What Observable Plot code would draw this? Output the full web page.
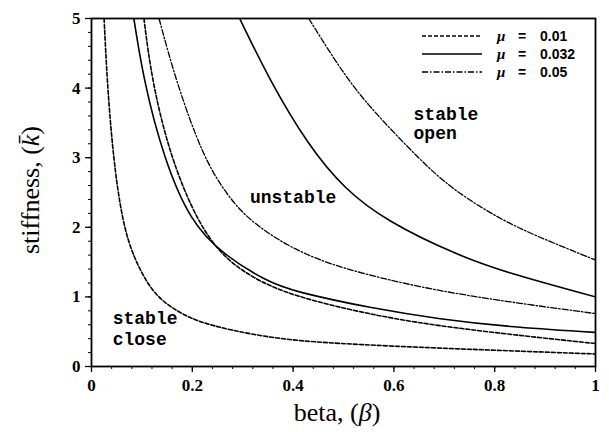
<!DOCTYPE html>
<html>
<head>
<meta charset="utf-8">
<script src="https://cdn.jsdelivr.net/npm/d3@7"></script>
<script src="https://cdn.jsdelivr.net/npm/@observablehq/plot@0.6"></script>
<style>
  html, body { margin: 0; padding: 0; background: white; }
  #chart { position: relative; width: 609px; height: 432px; }
</style>
</head>
<body>
<div id="chart"></div>
<script>
// ---- data ----
// mu = 0.01 (dashed), lower branch
const betaA = [0.025, 0.031, 0.043, 0.061, 0.084, 0.12, 0.157, 0.203, 0.276, 0.368, 0.46, 0.66, 1.0];
const kA    = [5.0,   4.09,  3.0,   2.08,  1.55,  1.07, 0.85,  0.66,  0.52,  0.40,  0.34, 0.27, 0.18];
// mu = 0.032 (solid), lower branch
const betaB = [0.084, 0.104, 0.143, 0.196, 0.262, 0.349, 0.40, 0.56, 0.692, 0.825, 1.0];
const kB    = [5.0,   4.09,  3.0,   2.08,  1.6,   1.22,  1.08, 0.83, 0.68,  0.57,  0.49];
// mu = 0.01 (dashed), upper branch
const betaC = [0.104, 0.12, 0.157, 0.21, 0.26, 0.32, 0.395, 0.56, 0.726, 1.0];
const kC    = [5.0,   4.09, 3.0,   2.08, 1.58, 1.27, 1.02,  0.73, 0.54,  0.33];
// mu = 0.05 (dash-dot), lower branch
const betaD = [0.134, 0.168, 0.222, 0.269, 0.315, 0.40, 0.494, 0.66, 0.825, 1.0];
const kD    = [5.0,   4.09,  3.0,   2.46,  2.08,  1.68, 1.41,  1.12, 0.93,  0.76];
// mu = 0.032 (solid), upper branch
const betaE = [0.294, 0.355, 0.43, 0.50, 0.587, 0.726, 0.818, 1.0];
const kE    = [5.0,   4.09,  3.18, 2.56, 2.08,  1.6,   1.36,  1.0];
// mu = 0.05 (dash-dot), upper branch
const betaF = [0.431, 0.507, 0.567, 0.645, 0.712, 0.818, 0.911, 1.0];
const kF    = [5.0,   4.12,  3.61,  3.02,  2.56,  2.08,  1.79,  1.53];

const muLabels = ["0.01", "0.032", "0.05"];
const xMajor = [0, 0.2, 0.4, 0.6, 0.8, 1];
const yMajor = [0, 1, 2, 3, 4, 5];
const xMinor = d3.range(0, 1.0001, 0.04);
const yMinor = d3.range(0, 5.0001, 0.2);

// annotations
const midText = ["unstable"];
const midBeta = [0.40];
const midK    = [2.43];
const leftText = ["stable", "open", "stable", "close"];
const leftBeta = [0.639, 0.639, 0.042, 0.042];
const leftK    = [3.62, 3.35, 0.69, 0.39];

// ---- build tables ----
function rows(name, bs, ks) { return bs.map((b, i) => ({curve: name, beta: b, k: ks[i]})); }
const dashed  = [...rows("A", betaA, kA), ...rows("C", betaC, kC)];
const solid   = [...rows("B", betaB, kB), ...rows("E", betaE, kE)];
const dashdot = [...rows("D", betaD, kD), ...rows("F", betaF, kF)];
const midNotes = midText.map((t, i) => ({t, beta: midBeta[i], k: midK[i]}));
const leftNotes = leftText.map((t, i) => ({t, beta: leftBeta[i], k: leftK[i]}));

const fmt = d => d === 0 ? "0" : d === 1 ? "1" : d.toFixed(1);
const noteFont = {fontFamily: "'Liberation Mono', monospace", fontWeight: "bold", fontSize: 18, fill: "black"};

const chart = Plot.plot({
  width: 609, height: 432,
  marginLeft: 91, marginRight: 14, marginTop: 18, marginBottom: 66,
  x: {domain: [0, 1]},
  y: {domain: [0, 5]},
  style: {fontFamily: "'Liberation Serif', serif", fontSize: "17px", color: "black", background: "white", overflow: "visible"},
  marks: [
    Plot.axisX(xMinor, {tickSize: 3, tickFormat: () => "", label: null, strokeWidth: 1}),
    Plot.axisY(yMinor, {tickSize: 3, tickFormat: () => "", label: null, strokeWidth: 1}),
    Plot.axisX(xMajor, {tickSize: 6, tickPadding: 6, tickFormat: fmt, label: null, fontWeight: "bold", strokeWidth: 1.3}),
    Plot.axisY(yMajor, {tickSize: 6, tickPadding: 5, tickFormat: d => String(d), label: null, fontWeight: "bold", strokeWidth: 1.3}),
    Plot.frame({stroke: "black", strokeWidth: 1.8}),
    Plot.line(dashed,  {x: "beta", y: "k", z: "curve", stroke: "black", strokeWidth: 1.6, strokeDasharray: "4,2", curve: "basis", clip: true}),
    Plot.line(solid,   {x: "beta", y: "k", z: "curve", stroke: "black", strokeWidth: 1.6, curve: "basis", clip: true}),
    Plot.line(dashdot, {x: "beta", y: "k", z: "curve", stroke: "black", strokeWidth: 1.3, strokeDasharray: "6,2,1.5,2", curve: "basis", clip: true}),
    Plot.text(midNotes, {x: "beta", y: "k", text: "t", textAnchor: "middle", ...noteFont}),
    Plot.text(leftNotes, {x: "beta", y: "k", text: "t", textAnchor: "start", ...noteFont})
  ]
});
document.getElementById("chart").appendChild(chart);

// ---- axis titles and legend ----
const svg = d3.select(chart);
const xs = chart.scale("x"), ys = chart.scale("y");
const cx = (xs.apply(0) + xs.apply(1)) / 2;
const cy = (ys.apply(0) + ys.apply(5)) / 2;

const xt = svg.append("text").attr("x", cx - 6).attr("y", 421)
  .attr("text-anchor", "middle").attr("font-family", "'Liberation Serif', serif").attr("font-size", 26);
xt.append("tspan").text("beta, (");
xt.append("tspan").attr("font-style", "italic").text("β");
xt.append("tspan").text(")");

const yt = svg.append("text").attr("transform", `translate(39,${cy - 2}) rotate(-90)`)
  .attr("text-anchor", "middle").attr("font-family", "'Liberation Serif', serif").attr("font-size", 26);
yt.append("tspan").text("stiffness, (");
yt.append("tspan").attr("font-style", "italic").text("k\u0304");
yt.append("tspan").text(")");

const styles = ["4,2", null, "6,2,1.5,2"];
const widths = [1.6, 1.6, 1.3];
const rowY = [36, 54, 72];
const lg = svg.append("g").attr("text-anchor", "start");
muLabels.forEach((m, i) => {
  const y = rowY[i];
  const ln = lg.append("line").attr("x1", 422).attr("x2", 482).attr("y1", y).attr("y2", y)
    .attr("stroke", "black").attr("stroke-width", widths[i]);
  if (styles[i]) ln.attr("stroke-dasharray", styles[i]);
  const g = lg.append("g").attr("font-family", "'Liberation Sans', sans-serif").attr("font-weight", "bold").attr("font-size", 14);
  g.append("text").attr("x", 497).attr("y", y + 5).attr("font-style", "italic").attr("font-family", "'Liberation Serif', serif").attr("font-size", 15).text("μ");
  g.append("text").attr("x", 518).attr("y", y + 5).text("=");
  g.append("text").attr("x", 540).attr("y", y + 5).text(m);
});
</script>
</body>
</html>
